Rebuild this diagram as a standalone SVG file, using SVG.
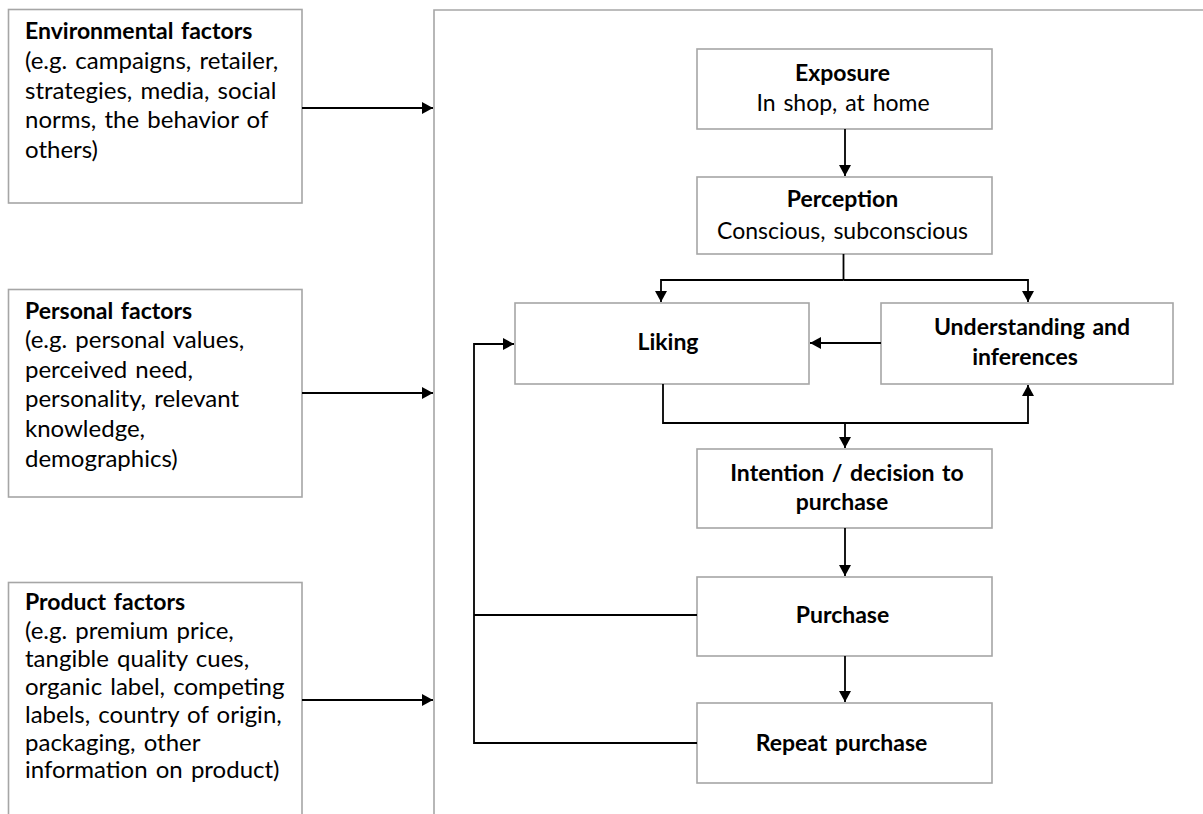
<svg xmlns="http://www.w3.org/2000/svg" width="1203" height="814" viewBox="0 0 1203 814">
<style>
  .box { fill: #ffffff; stroke: #a6a6a6; stroke-width: 1.6; }
  .t { font-family: Lato, "Liberation Sans", Arial, sans-serif; font-size: 23px; fill: #000000; word-spacing: 2px; }
  .l { font-size: 24px; }
  .b { font-weight: bold; }
  .c { text-anchor: middle; }
  .con { fill: none; stroke: #000000; stroke-width: 1.8; }
</style>
<defs>
  <marker id="arr" markerUnits="userSpaceOnUse" markerWidth="12" markerHeight="12" refX="11" refY="6" orient="auto">
    <path d="M0,0 L11,6 L0,12 z" fill="#000000"/>
  </marker>
</defs>
<rect width="1203" height="814" fill="#ffffff"/>

<g id="outer-frame">
  <path d="M434,814 L434,10 L1210,10" fill="none" stroke="#a6a6a6" stroke-width="1.6"/>
</g>

<g id="environmental">
  <rect class="box" x="8.5" y="9.5" width="293.5" height="193.5"/>
  <text class="t b" x="25" y="39">Environmental factors</text>
  <text class="t l" x="25" y="69">(e.g. campaigns, retailer,</text>
  <text class="t l" x="25" y="98.5">strategies, media, social</text>
  <text class="t l" x="25" y="128">norms, the behavior of</text>
  <text class="t l" x="25" y="157.5">others)</text>
</g>

<g id="personal">
  <rect class="box" x="8.5" y="289.5" width="293.5" height="207.5"/>
  <text class="t b" x="25" y="319">Personal factors</text>
  <text class="t l" x="25" y="348">(e.g. personal values,</text>
  <text class="t l" x="25" y="377.5">perceived need,</text>
  <text class="t l" x="25" y="407">personality, relevant</text>
  <text class="t l" x="25" y="437">knowledge,</text>
  <text class="t l" x="25" y="466.5">demographics)</text>
</g>

<g id="product">
  <rect class="box" x="8.5" y="582.5" width="293.5" height="240"/>
  <text class="t b" x="25" y="610">Product factors</text>
  <text class="t l" x="25" y="639">(e.g. premium price,</text>
  <text class="t l" x="25" y="667">tangible quality cues,</text>
  <text class="t l" x="25" y="695">organic label, competing</text>
  <text class="t l" x="25" y="723">labels, country of origin,</text>
  <text class="t l" x="25" y="750.5">packaging, other</text>
  <text class="t l" x="25" y="778">information on product)</text>
</g>

<g id="exposure">
  <rect class="box" x="697" y="49" width="295" height="80"/>
  <text class="t b c" x="842.5" y="81">Exposure</text>
  <text class="t c" x="843" y="111">In shop, at home</text>
</g>

<g id="perception">
  <rect class="box" x="697" y="177" width="295" height="77"/>
  <text class="t b c" x="842.5" y="207">Perception</text>
  <text class="t c" x="842.5" y="239">Conscious, subconscious</text>
</g>

<g id="liking">
  <rect class="box" x="515" y="303" width="294" height="81"/>
  <text class="t b c" x="668" y="350">Liking</text>
</g>

<g id="understanding">
  <rect class="box" x="881" y="303" width="292" height="81"/>
  <text class="t b c" x="1032" y="335">Understanding and</text>
  <text class="t b c" x="1025" y="365">inferences</text>
</g>

<g id="intention">
  <rect class="box" x="697" y="449" width="295" height="79"/>
  <text class="t b c" x="847" y="481">Intention / decision to</text>
  <text class="t b c" x="842" y="510">purchase</text>
</g>

<g id="purchase">
  <rect class="box" x="697" y="577" width="295" height="79"/>
  <text class="t b c" x="842.5" y="623">Purchase</text>
</g>

<g id="repeat-purchase">
  <rect class="box" x="697" y="703" width="295" height="80"/>
  <text class="t b c" x="841.5" y="751">Repeat purchase</text>
</g>

<g id="connectors">
  <line class="con" x1="302" y1="108" x2="433" y2="108" marker-end="url(#arr)"/>
  <line class="con" x1="302" y1="393" x2="433" y2="393" marker-end="url(#arr)"/>
  <line class="con" x1="302" y1="700" x2="433" y2="700" marker-end="url(#arr)"/>
  <line class="con" x1="845" y1="129" x2="845" y2="176" marker-end="url(#arr)"/>
  <line class="con" x1="843.5" y1="254" x2="843.5" y2="280" stroke-width="3"/>
  <path class="con" d="M843.5,280 L661,280 L661,302" marker-end="url(#arr)"/>
  <path class="con" d="M843.5,280 L1028,280 L1028,302" marker-end="url(#arr)"/>
  <line class="con" x1="881" y1="343" x2="810" y2="343" marker-end="url(#arr)"/>
  <path class="con" d="M663,384 L663,423 L1028,423 L1028,385" marker-end="url(#arr)"/>
  <line class="con" x1="845" y1="423" x2="845" y2="448" marker-end="url(#arr)"/>
  <line class="con" x1="845" y1="528" x2="845" y2="576" marker-end="url(#arr)"/>
  <line class="con" x1="845" y1="656" x2="845" y2="702" marker-end="url(#arr)"/>
  <path class="con" d="M697,615 L474,615"/>
  <path class="con" d="M697,743 L474,743 L474,344 L514,344" marker-end="url(#arr)"/>
</g>
</svg>
